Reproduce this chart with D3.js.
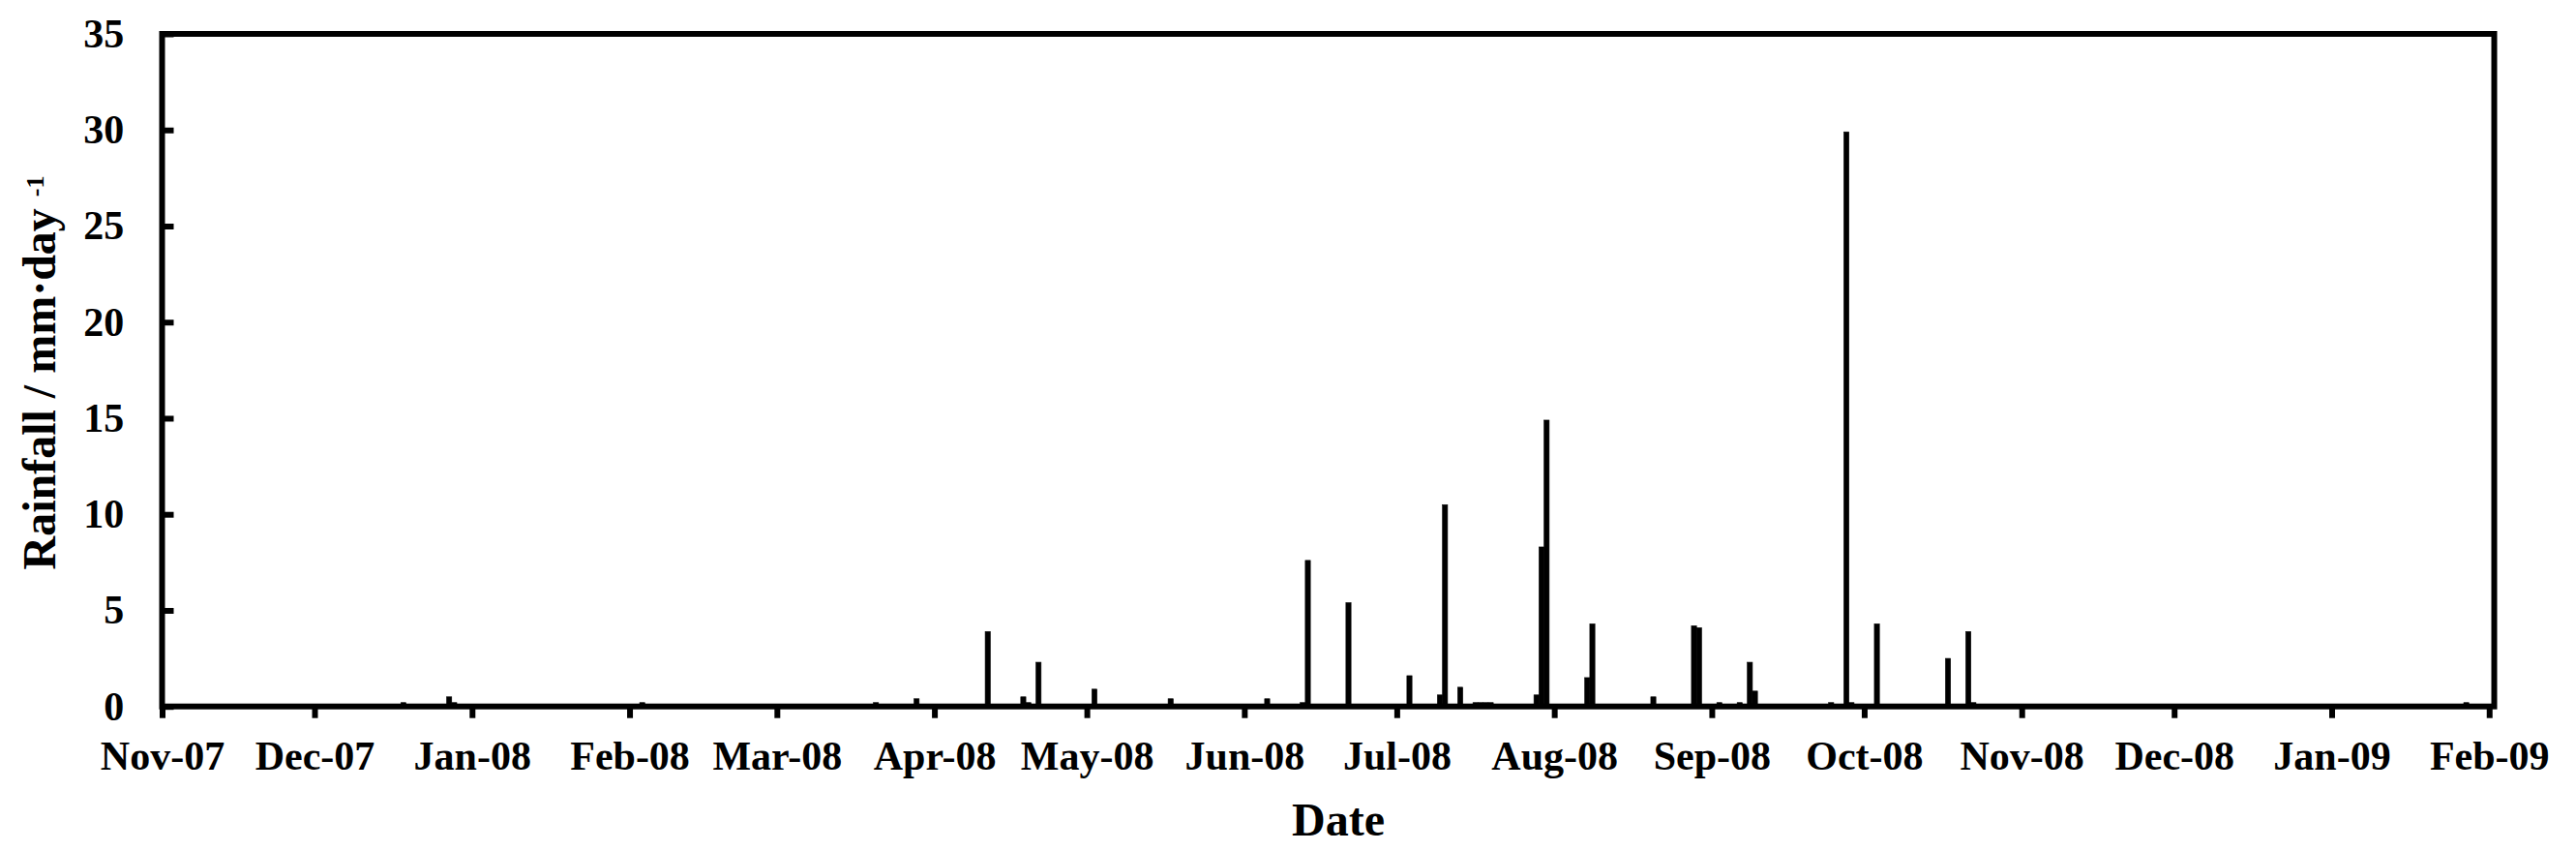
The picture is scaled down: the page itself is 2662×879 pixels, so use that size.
<!DOCTYPE html>
<html>
<head>
<meta charset="utf-8">
<script src="https://cdn.jsdelivr.net/npm/d3@7"></script>
<style>
  html, body { margin: 0; padding: 0; background: #fff; }
  svg { display: block; }
  text { font-family: "Liberation Serif", "Times New Roman", serif; font-weight: bold; fill: #000; }
</style>
</head>
<body>
<svg id="chart" width="2662" height="879"></svg>
<script>
// ---- data ----
const rainDates = [
  "2007-12-18","2007-12-27","2007-12-28","2008-02-03","2008-03-20","2008-03-28",
  "2008-04-11","2008-04-18","2008-04-19","2008-04-21","2008-05-02","2008-05-17",
  "2008-06-05","2008-06-12","2008-06-13","2008-06-21","2008-07-03","2008-07-09",
  "2008-07-10","2008-07-13","2008-07-16","2008-07-17","2008-07-18","2008-07-19",
  "2008-07-28","2008-07-29","2008-07-30","2008-08-07","2008-08-08","2008-08-20",
  "2008-08-28","2008-08-29","2008-09-02","2008-09-06","2008-09-08","2008-09-09",
  "2008-09-24","2008-09-27","2008-09-28","2008-10-03","2008-10-17","2008-10-21",
  "2008-10-22","2009-01-27"
];
const rainValues = [
  0.2, 0.5, 0.2, 0.2, 0.2, 0.4,
  3.9, 0.5, 0.2, 2.3, 0.9, 0.4,
  0.4, 0.2, 7.6, 5.4, 1.6, 0.6,
  10.5, 1.0, 0.2, 0.2, 0.2, 0.2,
  0.6, 8.3, 14.9, 1.5, 4.3, 0.5,
  4.2, 4.1, 0.2, 0.2, 2.3, 0.8,
  0.2, 29.9, 0.2, 4.3, 2.5, 3.9,
  0.2, 0.2
];
const yTickValues = [0, 5, 10, 15, 20, 25, 30, 35];
const xDomain = ["2007-11-01", "2009-02-02"];
const xTitle = "Date";
const yTitleMain = "Rainfall / mm·day ";
const yTitleSup = "-1";

// ---- layout ----
const parse = d3.utcParse("%Y-%m-%d");
const svg = d3.select("#chart");
const plotLeft = 167.5, plotRight = 2577.5, plotTop = 35, plotBottom = 729.7;

const x = d3.scaleUtc().domain(xDomain.map(parse)).range([plotLeft, plotRight]);
const y = d3.scaleLinear().domain([0, 35]).range([plotBottom, plotTop]);

const data = rainDates.map((d, i) => ({ date: parse(d), value: rainValues[i] }));

// bars
svg.append("g").selectAll("rect").data(data).join("rect")
  .attr("x", d => x(d.date))
  .attr("width", d => x(d3.utcDay.offset(d.date, 1)) - x(d.date))
  .attr("y", d => y(d.value))
  .attr("height", d => y(0) - y(d.value))
  .attr("fill", "#000")
  .attr("stroke", "#000")
  .attr("stroke-width", 0.6);

// x axis
const xAxis = d3.axisBottom(x)
  .tickValues(d3.utcMonth.range(parse("2007-11-01"), parse("2009-02-02")))
  .tickFormat(d3.utcFormat("%b-%y"))
  .tickSize(12).tickSizeOuter(0).tickPadding(23.5);
const gx = svg.append("g").attr("transform", `translate(0,${plotBottom})`).call(xAxis);
gx.select(".domain").remove();
gx.selectAll(".tick line").attr("stroke", "#000").attr("stroke-width", 6);
gx.selectAll(".tick text").attr("font-size", 42).attr("font-family", "Liberation Serif").attr("font-weight", "bold");

// y axis
const yAxis = d3.axisLeft(y).tickValues(yTickValues).tickSize(-12).tickPadding(39.2);
const gy = svg.append("g").attr("transform", `translate(${plotLeft},0)`).call(yAxis);
gy.select(".domain").remove();
gy.selectAll(".tick line").attr("stroke", "#000").attr("stroke-width", 6);
gy.selectAll(".tick text").attr("font-size", 42).attr("font-family", "Liberation Serif").attr("font-weight", "bold");

// frame
svg.append("rect")
  .attr("x", plotLeft).attr("y", plotTop)
  .attr("width", plotRight - plotLeft).attr("height", plotBottom - plotTop)
  .attr("fill", "none").attr("stroke", "#000").attr("stroke-width", 6);

// titles
svg.append("text")
  .attr("x", 1383).attr("y", 863)
  .attr("text-anchor", "middle").attr("font-size", 48)
  .text(xTitle);

const yt = svg.append("text")
  .attr("transform", "rotate(-90)")
  .attr("x", -385).attr("y", 57)
  .attr("text-anchor", "middle").attr("font-size", 48);
yt.append("tspan").text(yTitleMain);
yt.append("tspan").attr("font-size", 26).attr("dy", -12).text(yTitleSup);
</script>
</body>
</html>
